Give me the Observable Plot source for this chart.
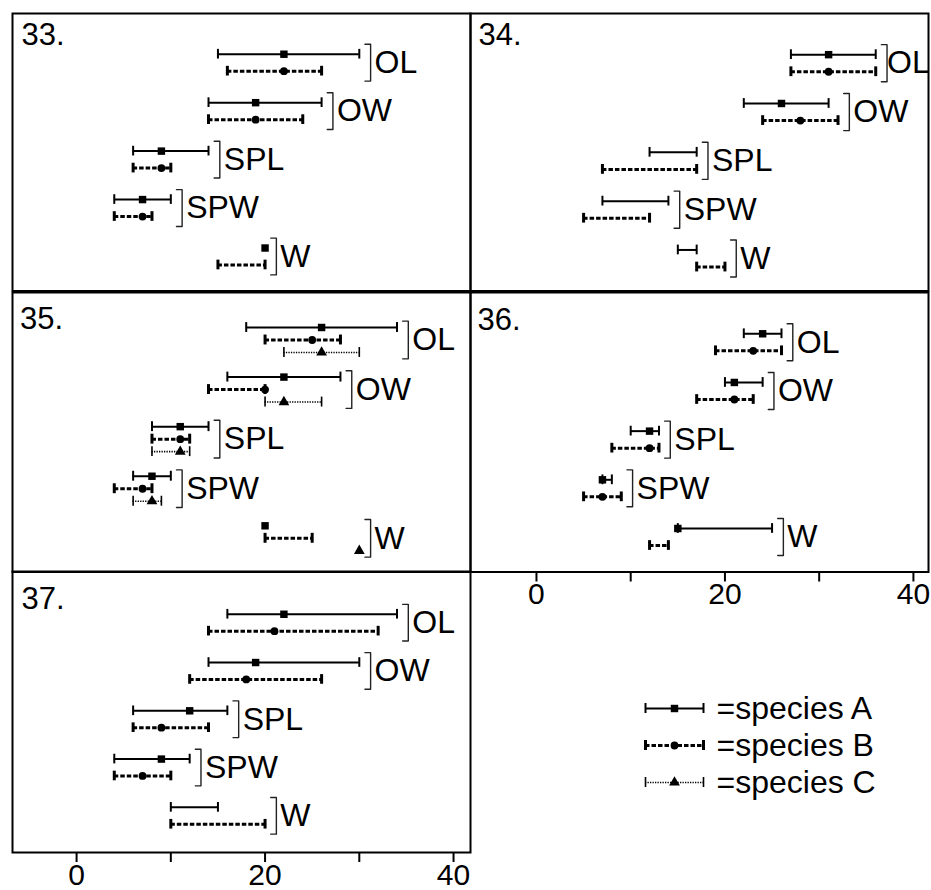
<!DOCTYPE html>
<html><head><meta charset="utf-8">
<script src="https://cdn.jsdelivr.net/npm/d3@7"></script>
<script src="https://cdn.jsdelivr.net/npm/@observablehq/plot@0.6"></script>
<style>
html,body{margin:0;padding:0;background:#fff;overflow:hidden}
#chart{position:relative;width:931px;height:890px;overflow:hidden;background:#fff;font-family:"Liberation Sans",Arial,Helvetica,sans-serif}
#chart svg{position:absolute;overflow:visible}
</style></head><body><div id="chart"></div>
<script>
const measures = ["OL", "OW", "SPL", "SPW", "W"];
const speciesKeys = ["A", "B", "C"];
const speciesLabels = ["=species A", "=species B", "=species C"];
const panelNames = ["33.", "34.", "35.", "36.", "37."];
const tickValues = [0, 10, 20, 30, 40];
const tickLabels = ["0", "", "20", "", "40"];

// [minimum, mean, maximum] for OL, OW, SPL, SPW, W; null = not drawn
const p33A = [[15, 22, 30], [14, 19, 26], [6, 9, 14], [4, 7, 10], [null, 20, null]];
const p33B = [[16, 22, 26], [14, 19, 24], [6, 9, 10], [4, 7, 8], [15, null, 20]];
const p34A = [[27, 31, 36], [22, 26, 31], [12, null, 17], [7, null, 14], [15, null, 17]];
const p34B = [[27, 31, 36], [24, 28, 32], [7, null, 17], [5, null, 12], [17, null, 20]];
const p35A = [[18, 26, 34], [16, 22, 28], [8, 11, 14], [6, 8, 10], [null, 20, null]];
const p35B = [[20, 25, 28], [14, 20, 20], [8, 11, 12], [4, 7, 8], [20, null, 25]];
const p35C = [[22, 26, 30], [20, 22, 26], [8, 11, 12], [6, 8, 9], [null, 30, null]];
const p36A = [[22, 24, 26], [20, 21, 24], [10, 12, 13], [7, 7, 8], [15, 15, 25]];
const p36B = [[19, 23, 26], [17, 21, 23], [8, 12, 13], [5, 7, 9], [12, null, 14]];
const p37A = [[16, 22, 34], [14, 19, 30], [6, 12, 16], [4, 9, 12], [10, null, 15]];
const p37B = [[14, 21, 32], [12, 18, 26], [6, 9, 14], [4, 7, 10], [10, null, 20]];

const FONT = '"Liberation Sans", Arial, Helvetica, sans-serif';
const LABEL_SIZE = 32;
const GLYPH_EM = {O: 0.778, L: 0.556, W: 0.944, S: 0.667, P: 0.667};
const STYLE = {
  A: {strokeWidth: 2, dash: undefined, capWidth: 2, symbol: "square", r: 4.2},
  B: {strokeWidth: 3, dash: "4.5,2", capWidth: 3, symbol: "circle", r: 3.9},
  C: {strokeWidth: 1.6, dash: "1.3,1.2", capWidth: 1.6, symbol: "triangle", r: 4}
};
const M = 2;
const FRAME_W = 458;
const cols = [{frameX: 12, domain: [-6.8, 41.8]}, {frameX: 470, domain: [-7.0, 41.6]}];
const panels = [
  {name: panelNames[0], series: [p33A, p33B], col: 0, top: 13, h: 277.5, yr: [49.2, 243], labelDx: 9, labelDy: 9.5, axis: false},
  {name: panelNames[1], series: [p34A, p34B], col: 1, top: 13, h: 277.5, yr: [49.7, 245], labelDx: 8, labelDy: 9, axis: false},
  {name: panelNames[2], series: [p35A, p35B, p35C], col: 0, top: 291.5, h: 279.5, yr: [47.5, 245.8], labelDx: 7.5, labelDy: 14.5, axis: false},
  {name: panelNames[3], series: [p36A, p36B], col: 1, top: 291.5, h: 279.5, yr: [49.8, 244.5], labelDx: 7, labelDy: 15, axis: true},
  {name: panelNames[4], series: [p37A, p37B], col: 0, top: 571, h: 281, yr: [51.2, 244.3], labelDx: 9, labelDy: 15.5, axis: true}
];
const hasAxisMark = typeof Plot.axisX === "function";
const chart = document.getElementById("chart");

function speciesMarks(rows, sp, capH) {
  const st = STYLE[sp];
  const rs = rows.filter(r => r.sp === sp);
  const ranged = rs.filter(r => r.lo != null && r.hi != null);
  const caps = ranged.flatMap(r => [{x: r.lo, y: r.y}, {x: r.hi, y: r.y}]);
  const means = rs.filter(r => r.mid != null);
  return [
    Plot.ruleY(ranged, {x1: "lo", x2: "hi", y: "y", stroke: "black", strokeWidth: st.strokeWidth, strokeDasharray: st.dash}),
    Plot.ruleX(caps, {x: "x", y1: d => d.y - capH, y2: d => d.y + capH, stroke: "black", strokeWidth: st.capWidth}),
    Plot.dot(means, {x: "mid", y: "y", symbol: st.symbol, r: st.r, fill: "black", stroke: "none"})
  ];
}

function drawPanel(p) {
  const c = cols[p.col];
  const pxPerUnit = FRAME_W / (c.domain[1] - c.domain[0]);
  const n = p.series.length;
  const off = n === 2 ? [-0.175, 0.175] : [-0.252, 0, 0.252];
  const rows = [];
  p.series.forEach((arr, s) => arr.forEach(([lo, mid, hi], i) =>
    rows.push({sp: speciesKeys[s], i, lo, mid, hi, y: i + off[s]})));
  const groups = measures.map((m, i) => {
    const vals = rows.filter(r => r.i === i).flatMap(r => [r.lo, r.mid, r.hi]).filter(v => v != null);
    const gmax = d3.max(vals);
    // keep the label inside the frame: shrink the gap after the bracket if needed
    const textW = d3.sum(m.split(""), ch => GLYPH_EM[ch] || 0.6) * LABEL_SIZE;
    const room = (c.domain[1] - (gmax + 1.2)) * pxPerUnit - textW + 1;
    return {m, i, gmax, dx: Math.max(0, Math.min(4, room))};
  });
  const bracket = groups.flatMap(g => [
    {m: g.m, x: g.gmax + 0.6, y: g.i - 0.38},
    {m: g.m, x: g.gmax + 1.2, y: g.i - 0.38},
    {m: g.m, x: g.gmax + 1.2, y: g.i + 0.38},
    {m: g.m, x: g.gmax + 0.6, y: g.i + 0.38}
  ]);
  const marks = [Plot.frame({stroke: "black", strokeWidth: 2})];
  speciesKeys.slice(0, n).forEach(sp => marks.push(...speciesMarks(rows, sp, 0.1)));
  marks.push(Plot.line(bracket, {x: "x", y: "y", z: "m", stroke: "#222", strokeWidth: 1.4, curve: "linear"}));
  groups.forEach(g => marks.push(
    Plot.text([g], {x: d => d.gmax + 1.2, y: "i", text: "m", textAnchor: "start", dx: g.dx, fontSize: LABEL_SIZE, fill: "black"})
  ));
  marks.push(
    Plot.text([p.name], {text: d => d, frameAnchor: "top-left", textAnchor: "start", lineAnchor: "top", dx: p.labelDx, dy: p.labelDy, fontSize: 31, fill: "black"})
  );
  const mb = p.axis ? 38 : M;
  if (p.axis && hasAxisMark) {
    marks.push(Plot.axisX(tickValues, {anchor: "bottom", tickSize: 10, tickPadding: 1, strokeWidth: 2, fontSize: 30,
      tickFormat: d => tickLabels[tickValues.indexOf(d)]}));
  }
  const xOpts = {domain: c.domain};
  if (p.axis && !hasAxisMark) {
    Object.assign(xOpts, {axis: "bottom", ticks: tickValues, tickSize: 10, tickPadding: 1,
      tickFormat: d => tickLabels[tickValues.indexOf(d)]});
  } else if (!p.axis) {
    xOpts.axis = null;
  }
  const svg = Plot.plot({
    width: FRAME_W + 2 * M,
    height: M + p.h + mb,
    marginLeft: M, marginRight: M, marginTop: M, marginBottom: mb,
    x: xOpts,
    y: {domain: [0, 4], range: [M + p.yr[0], M + p.yr[1]], axis: null},
    style: {background: "transparent", overflow: "visible", fontFamily: FONT, fontSize: "30px", color: "black"},
    marks
  });
  svg.style.left = (c.frameX - M) + "px";
  svg.style.top = (p.top - M) + "px";
  chart.appendChild(svg);
}

panels.forEach(drawPanel);

// legend
const legendRows = speciesKeys.map((k, i) => ({k, i, label: speciesLabels[i]}));
const legendMarks = [];
legendRows.forEach(r => {
  const st = STYLE[r.k];
  legendMarks.push(
    Plot.ruleY([r], {x1: () => 0, x2: () => 1, y: "i", stroke: "black", strokeWidth: st.strokeWidth, strokeDasharray: st.dash}),
    Plot.ruleX([0, 1], {x: d => d, y1: () => r.i - 0.135, y2: () => r.i + 0.135, stroke: "black", strokeWidth: st.capWidth}),
    Plot.dot([r], {x: () => 0.5, y: "i", symbol: st.symbol, r: st.r, fill: "black", stroke: "none"})
  );
});
legendMarks.push(Plot.text(legendRows, {x: () => 1, y: "i", text: "label", dx: 13, textAnchor: "start", fontSize: 32, fill: "black"}));
const legend = Plot.plot({
  width: 300, height: 120, marginLeft: 0, marginRight: 0, marginTop: 0, marginBottom: 0,
  x: {domain: [0, 1], range: [15, 73], axis: null},
  y: {domain: [0, 2], range: [18, 92], axis: null},
  style: {background: "transparent", overflow: "visible", fontFamily: FONT, fontSize: "32px", color: "black"},
  marks: legendMarks
});
legend.style.left = "630px";
legend.style.top = "690px";
chart.appendChild(legend);
</script>
</body></html>
